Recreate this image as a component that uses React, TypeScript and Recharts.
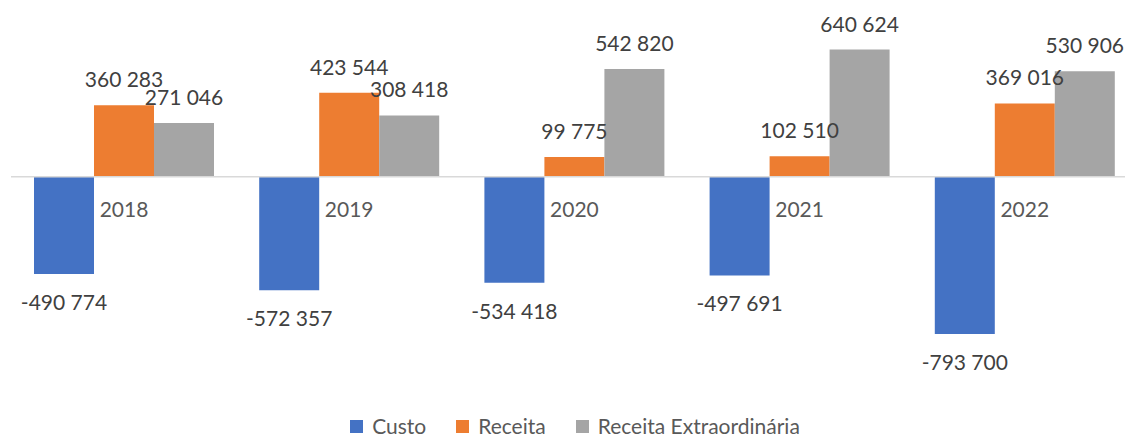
import { BarChart, Bar, XAxis, YAxis, ReferenceLine, LabelList } from 'recharts'

const years = ['2018', '2019', '2020', '2021', '2022']
const custo = [-490774, -572357, -534418, -497691, -793700]
const receita = [360283, 423544, 99775, 102510, 369016]
const receitaExtra = [271046, 308418, 542820, 640624, 530906]

const series = [
    { key: 'custo', name: 'Custo', color: '#4472C4' },
    { key: 'receita', name: 'Receita', color: '#ED7D31' },
    { key: 'extra', name: 'Receita Extraordinária', color: '#A5A5A5' },
]

const data = years.map((year, i) => ({
    year,
    custo: custo[i],
    receita: receita[i],
    extra: receitaExtra[i],
}))

const FONT = 'Lato, "Noto Sans", sans-serif'

const fmt = (v: number) => {
    const s = Math.abs(v).toString().replace(/\B(?=(\d{3})+(?!\d))/g, ' ')
    return v < 0 ? '-' + s : s
}

const ValueLabel = (props: any) => {
    const { x, y, width, height, value } = props
    const top = Math.min(y, y + height)
    const bottom = Math.max(y, y + height)
    const cx = x + width / 2
    const ty = value < 0 ? bottom + 36 : top - 18
    return (
        <text x={cx} y={ty} textAnchor="middle" fill="#404040" fontSize={21} fontFamily={FONT}>
            {fmt(value)}
        </text>
    )
}

const YearLabel = (props: any) => {
    const { x, y, width, height, value } = props
    const bottom = Math.max(y, y + height)
    return (
        <text x={x + width / 2} y={bottom + 40} textAnchor="middle" fill="#595959" fontSize={21} fontFamily={FONT}>
            {value}
        </text>
    )
}

// legend lives outside the svg so it doesn't eat plot height
const ChartLegend = () => (
    <div
        style={{
            position: 'absolute', top: 415, left: 0, width: 1150,
            display: 'flex', justifyContent: 'center', gap: 30,
            fontFamily: FONT, fontSize: 21, color: '#595959', lineHeight: '22px',
        }}
    >
        {series.map((s) => (
            <div key={s.key} style={{ display: 'flex', alignItems: 'center' }}>
                <span style={{ display: 'inline-block', width: 13, height: 13, background: s.color, marginRight: 9 }} />
                <span>{s.name}</span>
            </div>
        ))}
    </div>
)

export default function App() {
    return (
        <div style={{ position: 'fixed', top: 0, left: 0, width: 1125, height: 438, overflow: 'hidden', background: '#fff' }}>
            <BarChart
                width={1140}
                height={438}
                data={data}
                margin={{ top: 18, right: 3, bottom: 63, left: 11 }}
                barGap={0}
                barSize={60}
            >
                <XAxis dataKey="year" hide />
                <YAxis hide domain={[-1000000, 800000]} />
                <ReferenceLine y={0} stroke="#D9D9D9" strokeWidth={1.5} />
                <Bar dataKey="custo" name="Custo" fill="#4472C4" isAnimationActive={false}>
                    <LabelList dataKey="custo" content={<ValueLabel />} />
                </Bar>
                <Bar dataKey="receita" name="Receita" fill="#ED7D31" isAnimationActive={false}>
                    <LabelList dataKey="receita" content={<ValueLabel />} />
                    <LabelList dataKey="year" content={<YearLabel />} />
                </Bar>
                <Bar dataKey="extra" name="Receita Extraordinária" fill="#A5A5A5" isAnimationActive={false}>
                    <LabelList dataKey="extra" content={<ValueLabel />} />
                </Bar>
            </BarChart>
            <ChartLegend />
        </div>
    )
}
